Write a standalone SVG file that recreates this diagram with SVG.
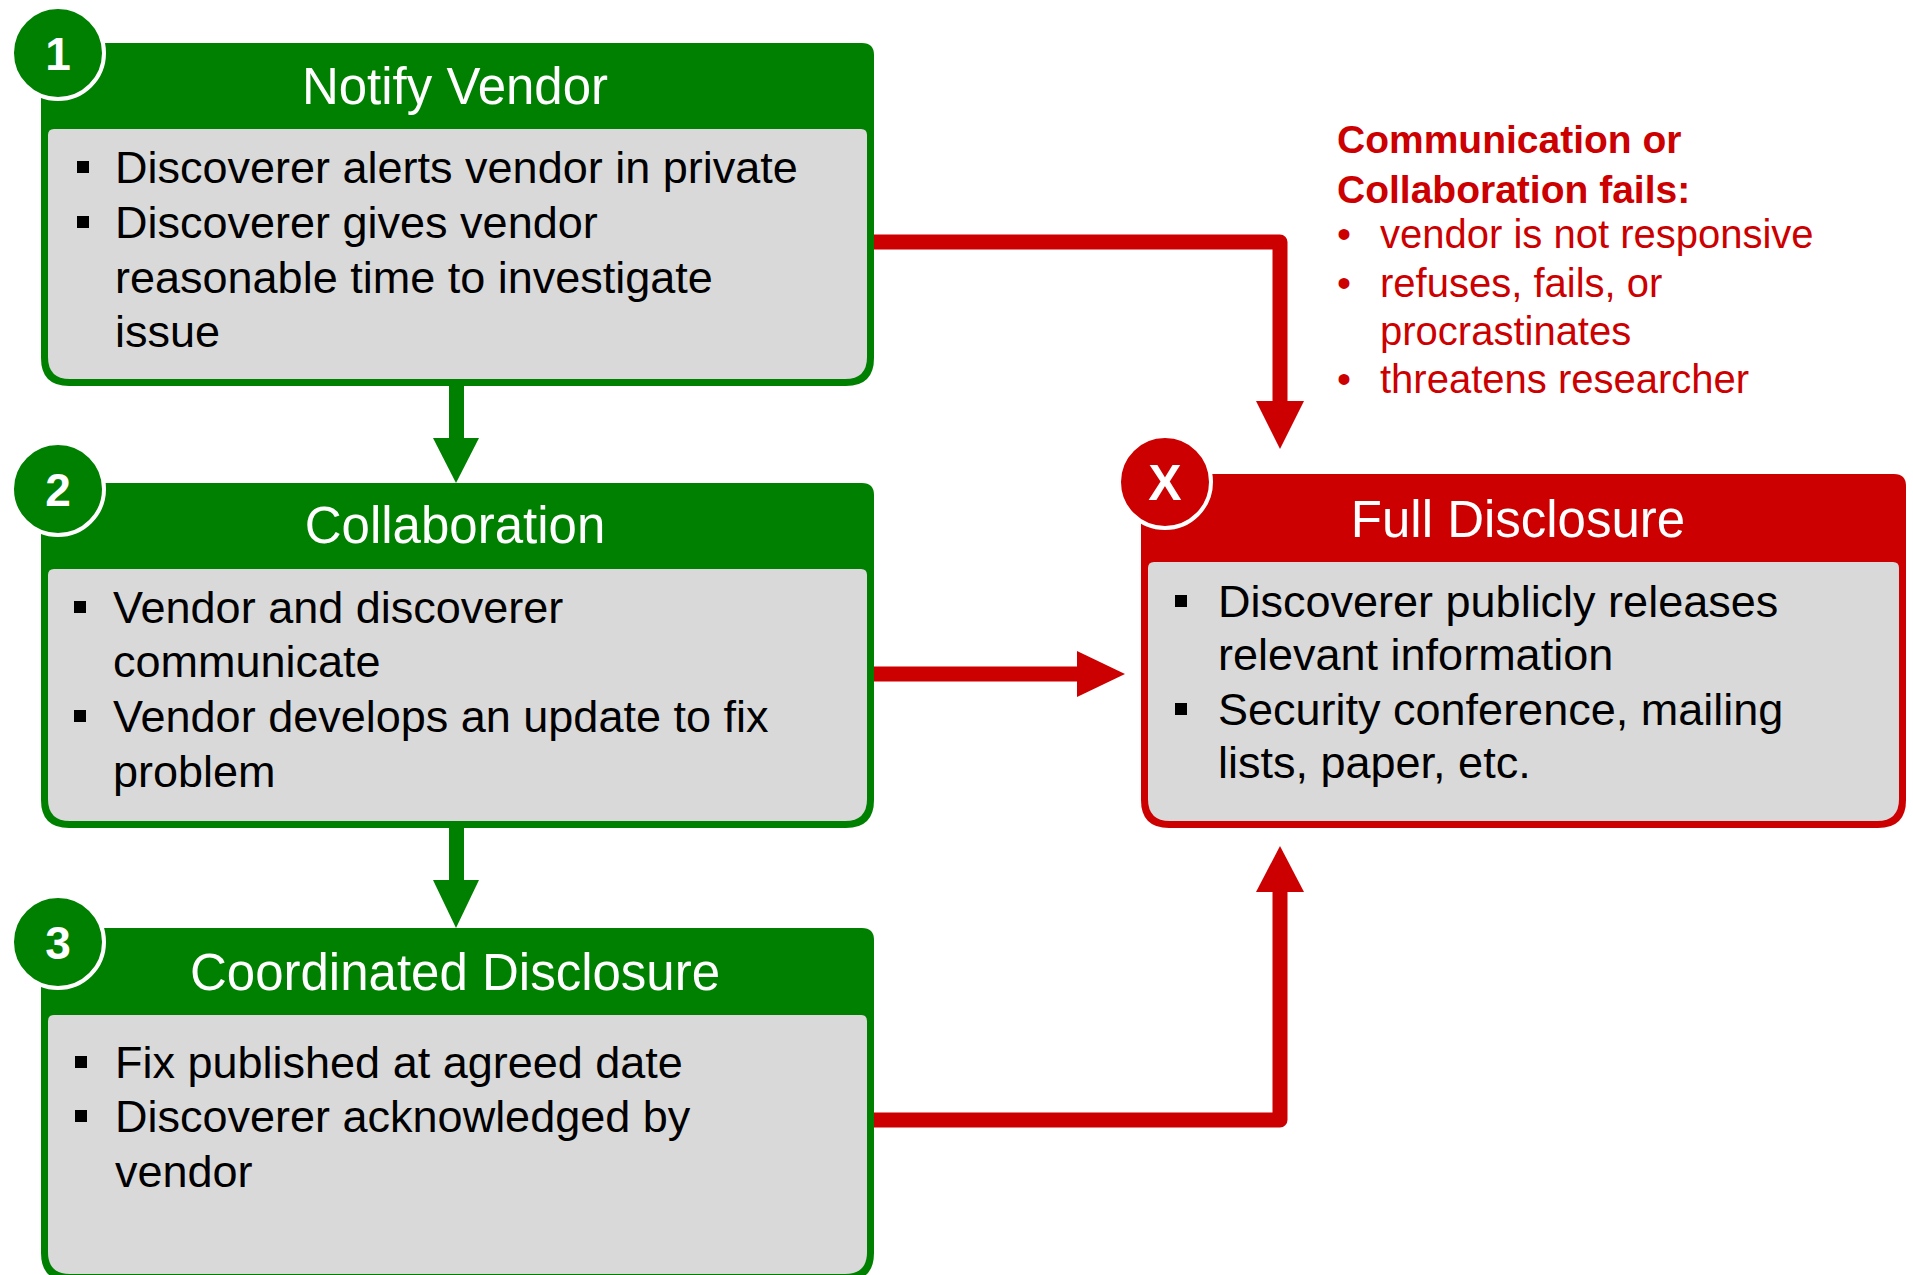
<svg xmlns="http://www.w3.org/2000/svg" width="1913" height="1275" viewBox="0 0 1913 1275">
<style>
.hdr{font-family:"Liberation Sans",Arial,sans-serif;font-size:51px;fill:#fff;text-anchor:middle}
.body{font-family:"Liberation Sans",Arial,sans-serif;font-size:45px;fill:#000}
.num{font-family:"Liberation Sans",Arial,sans-serif;font-size:46px;font-weight:bold;fill:#fff;text-anchor:middle}
.gbox{fill:#008000}
.rbox{fill:#CC0000}
.inner{fill:#D9D9D9}
.gcirc{fill:#008000;stroke:#fff;stroke-width:4}
.rcirc{fill:#CC0000;stroke:#fff;stroke-width:4}
.red{font-family:"Liberation Sans",Arial,sans-serif;font-size:40px;fill:#CC0000}
.redb{font-family:"Liberation Sans",Arial,sans-serif;font-size:39px;font-weight:bold;fill:#CC0000}
.rline{fill:none;stroke:#CC0000;stroke-width:15;stroke-linejoin:round}
</style>
<rect width="1913" height="1275" fill="#fff"/>
<g id="connectors">
  <rect x="449" y="384" width="15" height="56" fill="#008000"/>
  <polygon points="433,438 479,438 456,483" fill="#008000"/>
  <rect x="449" y="826" width="15" height="56" fill="#008000"/>
  <polygon points="433,880 479,880 456,928" fill="#008000"/>
  <path class="rline" d="M874,242 H1280 V405"/>
  <polygon points="1256,401 1304,401 1280,449" fill="#CC0000"/>
  <path class="rline" d="M874,674 H1080"/>
  <polygon points="1077,651 1077,697 1125,674" fill="#CC0000"/>
  <path class="rline" d="M874,1120 H1280 V888"/>
  <polygon points="1256,892 1304,892 1280,846" fill="#CC0000"/>
</g>
<g id="node-notify">
  <path class="gbox" d="M53,43 H862 Q874,43 874,55 V358 Q874,386 846,386 H69 Q41,386 41,358 V55 Q41,43 53,43 Z"/>
  <path class="inner" d="M54,129 H861 Q867,129 867,135 V357 Q867,379 845,379 H70 Q48,379 48,357 V135 Q48,129 54,129 Z"/>
  <circle class="gcirc" cx="58" cy="53" r="46"/>
  <text class="num" x="58" y="70">1</text>
  <text class="hdr" x="455" y="104">Notify Vendor</text>
  <rect x="77" y="161" width="12" height="12"/>
  <text class="body" x="115" y="183">Discoverer alerts vendor in private</text>
  <rect x="77" y="216" width="12" height="12"/>
  <text class="body" x="115" y="238">Discoverer gives vendor</text>
  <text class="body" x="115" y="293">reasonable time to investigate</text>
  <text class="body" x="115" y="347">issue</text>
</g>
<g id="node-collab">
  <path class="gbox" d="M53,483 H862 Q874,483 874,495 V800 Q874,828 846,828 H69 Q41,828 41,800 V495 Q41,483 53,483 Z"/>
  <path class="inner" d="M54,569 H861 Q867,569 867,575 V799 Q867,821 845,821 H70 Q48,821 48,799 V575 Q48,569 54,569 Z"/>
  <circle class="gcirc" cx="58" cy="489" r="46"/>
  <text class="num" x="58" y="506">2</text>
  <text class="hdr" x="455" y="543">Collaboration</text>
  <rect x="74" y="601" width="12" height="12"/>
  <text class="body" x="113" y="623">Vendor and discoverer</text>
  <text class="body" x="113" y="677">communicate</text>
  <rect x="74" y="710" width="12" height="12"/>
  <text class="body" x="113" y="732">Vendor develops an update to fix</text>
  <text class="body" x="113" y="787">problem</text>
</g>
<g id="node-coord">
  <path class="gbox" d="M53,928 H862 Q874,928 874,940 V1253 Q874,1281 846,1281 H69 Q41,1281 41,1253 V940 Q41,928 53,928 Z"/>
  <path class="inner" d="M54,1015 H861 Q867,1015 867,1021 V1252 Q867,1274 845,1274 H70 Q48,1274 48,1252 V1021 Q48,1015 54,1015 Z"/>
  <circle class="gcirc" cx="58" cy="942" r="46"/>
  <text class="num" x="58" y="959">3</text>
  <text class="hdr" x="455" y="990">Coordinated Disclosure</text>
  <rect x="75" y="1056" width="12" height="12"/>
  <text class="body" x="115" y="1078">Fix published at agreed date</text>
  <rect x="75" y="1110" width="12" height="12"/>
  <text class="body" x="115" y="1132">Discoverer acknowledged by</text>
  <text class="body" x="115" y="1187">vendor</text>
</g>
<g id="node-full">
  <path class="rbox" d="M1153,474 H1894 Q1906,474 1906,486 V800 Q1906,828 1878,828 H1169 Q1141,828 1141,800 V486 Q1141,474 1153,474 Z"/>
  <path class="inner" d="M1154,562 H1893 Q1899,562 1899,568 V799 Q1899,821 1877,821 H1170 Q1148,821 1148,799 V568 Q1148,562 1154,562 Z"/>
  <circle class="rcirc" cx="1165" cy="482" r="46"/>
  <text class="num" x="1165" y="500" style="font-size:50px">X</text>
  <text class="hdr" x="1518" y="537">Full Disclosure</text>
  <rect x="1175" y="595" width="12" height="12"/>
  <text class="body" x="1218" y="617">Discoverer publicly releases</text>
  <text class="body" x="1218" y="670">relevant information</text>
  <rect x="1175" y="703" width="12" height="12"/>
  <text class="body" x="1218" y="725">Security conference, mailing</text>
  <text class="body" x="1218" y="778">lists, paper, etc.</text>
</g>
<g id="note-fails">
  <text class="redb" x="1337" y="153">Communication or</text>
  <text class="redb" x="1337" y="203">Collaboration fails:</text>
  <text class="red" x="1337" y="248">•</text>
  <text class="red" x="1380" y="248">vendor is not responsive</text>
  <text class="red" x="1337" y="297">•</text>
  <text class="red" x="1380" y="297">refuses, fails, or</text>
  <text class="red" x="1380" y="345">procrastinates</text>
  <text class="red" x="1337" y="393">•</text>
  <text class="red" x="1380" y="393">threatens researcher</text>
</g>
</svg>
